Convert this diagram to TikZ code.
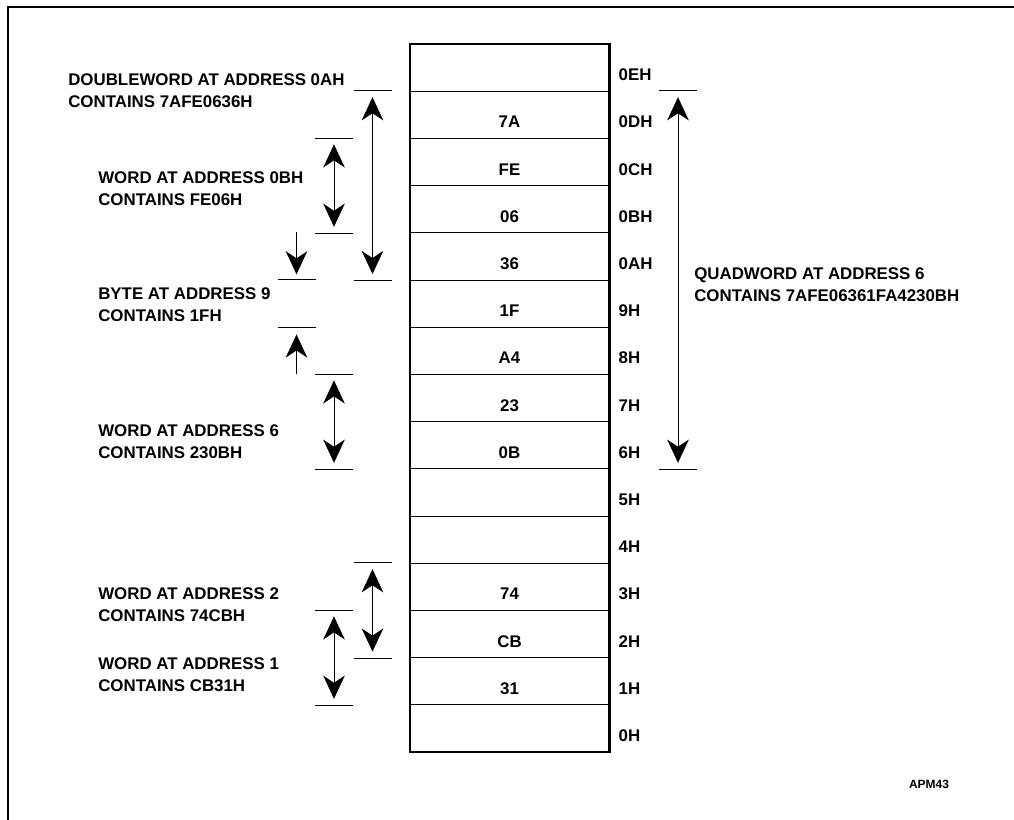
\documentclass[tikz,border=0pt]{standalone}
\usepackage{fontspec}
\setmainfont{Liberation Sans}
\usetikzlibrary{arrows.meta, positioning}

\begin{document}
\begin{tikzpicture}[x=0.025cm,y=-0.025cm,>={Stealth[length=0.58cm,width=0.54cm,inset=0.18cm]},
  cell/.style={draw,line width=0.6pt,minimum width=4.975cm,minimum height=1.18cm,inner sep=0pt,
    text height=0.65cm,text depth=0pt,font=\fontsize{12}{14}\selectfont\bfseries},
  addr/.style={inner sep=0pt,text height=0.65cm,text depth=0pt,font=\fontsize{12}{14}\selectfont\bfseries},
  note/.style={anchor=north west,inner sep=0pt,align=left,font=\fontsize{12}{16.3}\selectfont\bfseries},
  tick/.style={line width=0.6pt},
  span/.style={line width=0.6pt,shorten >=0.16cm,shorten <=0.16cm}]
  \useasboundingbox (0,0) rectangle (1014,820);
  \draw[line width=1pt] (8,820) -- (8,7) -- (1014,7);
  % memory bytes, 0EH at the top
  \foreach \val/\adr [count=\i from 0] in {/0EH,7A/0DH,FE/0CH,06/0BH,36/0AH,1F/9H,A4/8H,23/7H,0B/6H,/5H,/4H,74/3H,CB/2H,31/1H,/0H} {
    \node[cell] (r\i) at (509.5,{67.6+47.2*\i}) {\val};
    \node[addr, right=0.225cm of r\i] (a\i) {\adr};
  }
  \draw[line width=1.5pt] (r0.north west) rectangle (r14.south east);
  \coordinate (colA) at (296.5,0);
  \coordinate (colB) at (334,0);
  \coordinate (colC) at (372.5,0);
  \coordinate (colQ) at (678,0);
  \foreach \r/\c in {r1.north/colC,r4.south/colC,r11.north/colC,r12.south/colC,
      r2.north/colB,r3.south/colB,r7.north/colB,r8.south/colB,r12.north/colB,r13.south/colB,
      r5.north/colA,r5.south/colA,r1.north/colQ,r8.south/colQ}
    \draw[tick] (\r -| \c) +(-19,0) -- +(19,0);
  \path[span]
    (r1.north -| colC) edge[<->] (r4.south -| colC)
    (r2.north -| colB) edge[<->] (r3.south -| colB)
    (r7.north -| colB) edge[<->] (r8.south -| colB)
    (r11.north -| colC) edge[<->] (r12.south -| colC)
    (r12.north -| colB) edge[<->] (r13.south -| colB)
    (r1.north -| colQ) edge[<->] (r8.south -| colQ);
  \path[tick]
    (r4.north -| colA) edge[->,shorten >=0.13cm] (r5.north -| colA)
    (r7.north -| colA) edge[->,shorten >=0.17cm] (r5.south -| colA);
  \node[note] (dw) at (68,73) {DOUBLEWORD AT ADDRESS 0AH\\CONTAINS 7AFE0636H};
  \node[note] (w0b) at (98,171) {WORD AT ADDRESS 0BH\\CONTAINS FE06H};
  \node[note] (b9) at (98,287) {BYTE AT ADDRESS 9\\CONTAINS 1FH};
  \node[note] (w6) at (98,424) {WORD AT ADDRESS 6\\CONTAINS 230BH};
  \node[note] (w2) at (98,587) {WORD AT ADDRESS 2\\CONTAINS 74CBH};
  \node[note] (w1) at (98,657) {WORD AT ADDRESS 1\\CONTAINS CB31H};
  \node[note] (qw) at (694,267) {QUADWORD AT ADDRESS 6\\CONTAINS 7AFE06361FA4230BH};
  \node[font=\fontsize{8.5}{10}\selectfont\bfseries] (fig) at (929,784) {APM43};
\end{tikzpicture}
\end{document}
